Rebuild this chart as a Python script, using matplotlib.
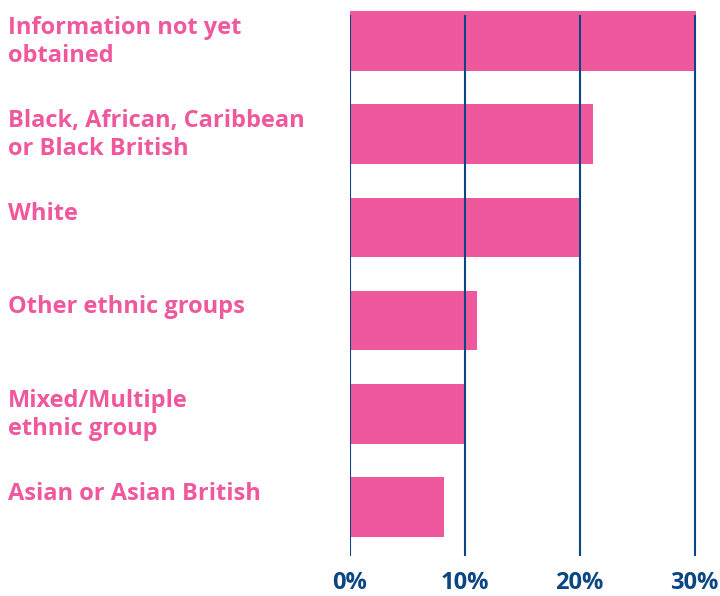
import matplotlib
matplotlib.use("Agg")
import matplotlib.pyplot as plt
import matplotlib.transforms as mtransforms

# Данные
categories = [
    "Information not yet\nobtained",
    "Black, African, Caribbean\nor Black British",
    "White",
    "Other ethnic groups",
    "Mixed/Multiple\nethnic group",
    "Asian or Asian British",
]
values = [30.1, 21.2, 20.1, 11.1, 10.1, 8.2]
ticks = [0, 10, 20, 30]
tick_labels = ["0%", "10%", "20%", "30%"]

PINK = "#F0589E"
NAVY = "#0B4684"

plt.rcParams['font.family'] = ['Open Sans', 'DejaVu Sans']

fig = plt.figure(figsize=(7.2, 5.96), dpi=100)
ax = fig.add_axes([350 / 720, 1 - 556 / 596, 356 / 720, 541 / 596])

y = list(range(len(categories)))
ax.barh(y, values, height=0.64, color=PINK, zorder=1, clip_on=False)

ax.set_xlim(0, 31)
ax.set_ylim(5.526, -0.279)
ax.set_xticks(ticks)
ax.set_xticklabels(tick_labels, fontsize=17, fontweight='bold', color=NAVY)
ax.tick_params(axis='x', length=0, pad=11)
ax.set_yticks([])
for s in ax.spines.values():
    s.set_visible(False)
ax.grid(axis='x', color=NAVY, linewidth=1.5, zorder=2)
ax.set_axisbelow(False)

# Подписи слева
trans = mtransforms.blended_transform_factory(fig.transFigure, ax.transData)
for i, name in enumerate(categories):
    ax.text(8 / 720, i - 0.32 + 0.05, name, transform=trans, ha='left', va='top',
            fontsize=17, fontweight='bold', color=PINK, linespacing=1.22)

plt.savefig('out.png', dpi=100)
